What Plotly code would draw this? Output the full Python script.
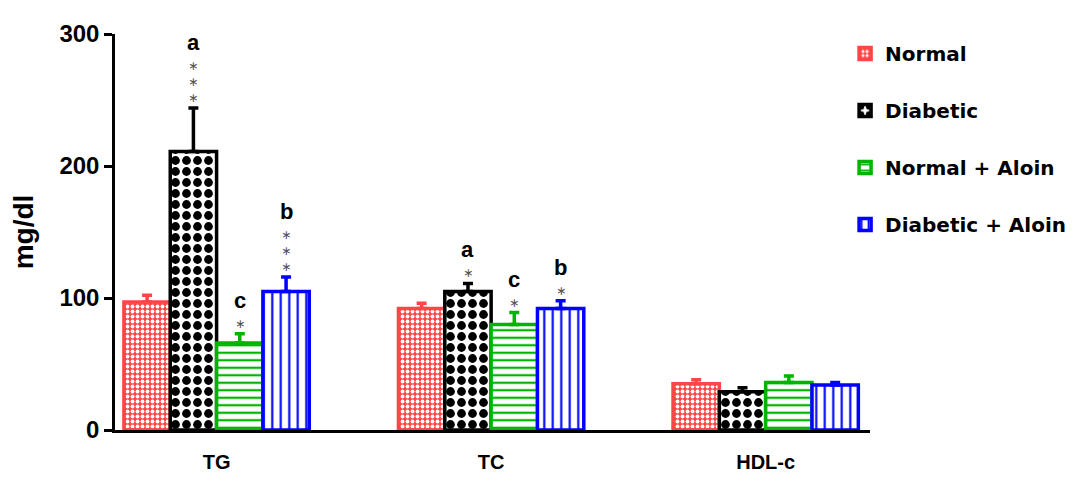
import plotly.graph_objects as go

categories = ["TG", "TC", "HDL-c"]
groups = ["Normal", "Diabetic", "Normal + Aloin", "Diabetic + Aloin"]
normal = [97, 92, 35]
diabetic = [211, 105, 29]
normal_aloin = [66, 80, 36]
diabetic_aloin = [105, 92, 34]
err_normal = [5, 4, 3]
err_diabetic = [33, 6, 3]
err_normal_aloin = [7, 9, 5]
err_diabetic_aloin = [11, 6, 2]
letters = {"Diabetic": ["a", "a", ""], "Normal + Aloin": ["c", "c", ""], "Diabetic + Aloin": ["b", "b", ""]}
stars = {"Diabetic": [3, 1, 0], "Normal + Aloin": [1, 1, 0], "Diabetic + Aloin": [3, 1, 0]}

values = [normal, diabetic, normal_aloin, diabetic_aloin]
errors = [err_normal, err_diabetic, err_normal_aloin, err_diabetic_aloin]
colors = ["#ff4545", "#000000", "#00b400", "#0000ff"]
patterns = [
    dict(shape=".", fgcolor="#ffffff", bgcolor="#ff4545", size=5, solidity=0.45, fillmode="replace"),
    dict(shape=".", fgcolor="#000000", bgcolor="#ffffff", size=11, solidity=0.5, fillmode="replace"),
    dict(shape="-", fgcolor="#00b400", bgcolor="#ffffff", size=7.5, solidity=0.3, fillmode="replace"),
    dict(shape="|", fgcolor="#0000ff", bgcolor="#ffffff", size=8.5, solidity=0.25, fillmode="replace"),
]

bargap = 0.325
fig = go.Figure()
for i, g in enumerate(groups):
    fig.add_trace(go.Bar(
        x=categories, y=values[i], name="<b>" + g + "</b>", legendgroup=g,
        marker=dict(color=colors[i], pattern=patterns[i], line=dict(color=colors[i], width=3.5)),
        error_y=dict(type="data", array=errors[i], arrayminus=[0, 0, 0], symmetric=False,
                     color=colors[i], thickness=3.5, width=5),
    ))

bw = (1 - bargap) / len(groups)
line_h = 16
annotations = []
for i, g in enumerate(groups):
    if g not in letters:
        continue
    off = -(1 - bargap) / 2 + bw * (i + 0.5)
    for j in range(len(categories)):
        n = stars[g][j]
        if n == 0:
            continue
        top = values[i][j] + errors[i][j]
        annotations.append(dict(x=j + off, y=top, xref="x", yref="y",
                                text="<br>".join(["∗"] * n),
                                showarrow=False, yanchor="bottom", yshift=1,
                                font=dict(family="DejaVu Sans", size=12.3, color="#555555")))
        annotations.append(dict(x=j + off, y=top, xref="x", yref="y",
                                text="<b>" + letters[g][j] + "</b>",
                                showarrow=False, yanchor="bottom", yshift=2 + line_h * n + 1,
                                font=dict(family="Liberation Sans", size=22, color="#000000")))

fig.update_layout(
    width=1077, height=477,
    margin=dict(l=107, r=215, t=17, b=53),
    plot_bgcolor="white", paper_bgcolor="white",
    barmode="group", bargap=bargap, bargroupgap=0,
    showlegend=True,
    legend=dict(x=0.967, y=1.0, xanchor="left", yanchor="top", tracegroupgap=28,
                font=dict(family="DejaVu Sans", size=20, color="#000000"),
                bgcolor="rgba(0,0,0,0)"),
    annotations=annotations,
    xaxis=dict(range=[-0.37, 2.38], showline=True, linecolor="black", linewidth=2.5,
               ticks="", tickvals=categories, ticktext=["<b>" + c + "</b>" for c in categories],
               tickfont=dict(family="Liberation Sans", size=20, color="black"),
               ticklabelstandoff=12, showgrid=False),
    yaxis=dict(range=[0, 300], tickvals=[0, 100, 200, 300],
               ticktext=["<b>%d</b>" % v for v in [0, 100, 200, 300]],
               showline=True, linecolor="black",
               linewidth=2.5, ticks="outside", ticklen=8, tickwidth=2.5, tickcolor="black",
               tickfont=dict(family="Liberation Sans", size=24, color="black"),
               title=dict(text="<b>mg/dl</b>", font=dict(family="Liberation Sans", size=28, color="black"), standoff=20),
               showgrid=False, zeroline=False),
)
fig.write_html("out.html")
